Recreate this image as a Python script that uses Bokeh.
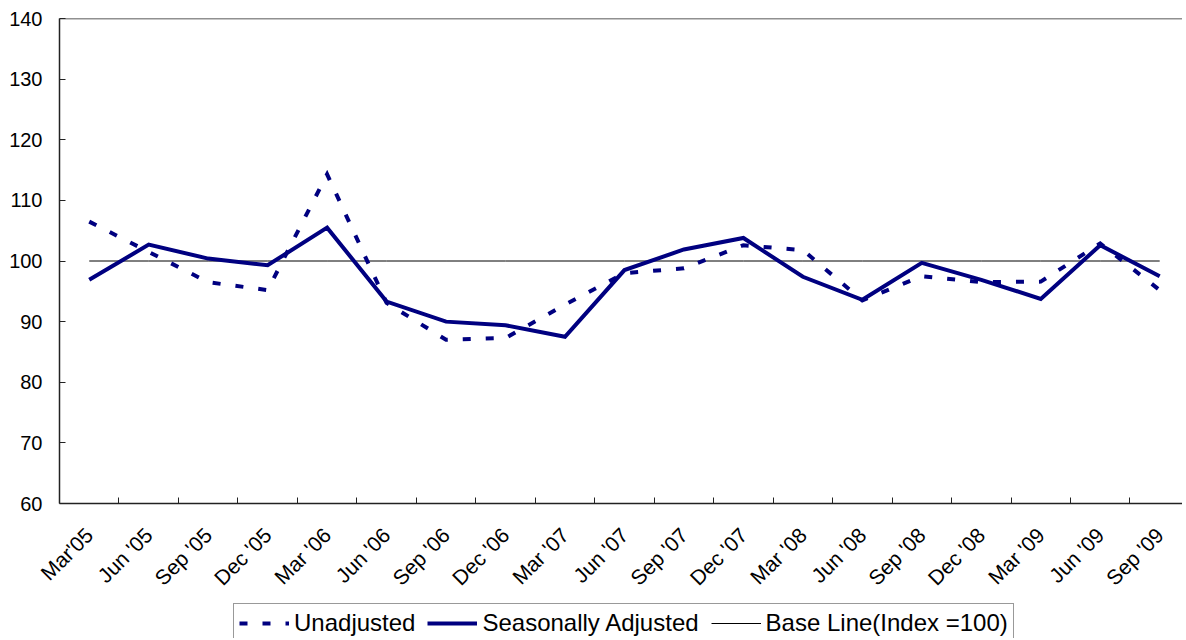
from bokeh.plotting import figure
from bokeh.models import (Range1d, FixedTicker, Legend, LegendItem, Span)
from bokeh.layouts import column
from bokeh.embed import file_html
from bokeh.resources import INLINE

# ---- data ----
quarters = ["Mar'05", "Jun '05", "Sep '05", "Dec '05", "Mar '06", "Jun '06",
            "Sep '06", "Dec '06", "Mar '07", "Jun '07", "Sep '07", "Dec '07",
            "Mar '08", "Jun '08", "Sep '08", "Dec '08", "Mar '09", "Jun '09",
            "Sep '09"]
unadjusted = [106.5, 101.5, 96.5, 95.2, 114.3, 93.1, 87.0, 87.3, 92.8, 98.0,
              98.8, 102.6, 101.8, 93.5, 97.5, 96.5, 96.6, 102.9, 95.2]
seasonally_adjusted = [96.9, 102.7, 100.4, 99.3, 105.5, 93.3, 90.0, 89.4, 87.5,
                       98.5, 101.9, 103.8, 97.4, 93.6, 99.7, 96.9, 93.75, 102.6,
                       97.5]
base_line = [100, 100, 100, 100, 100, 100, 100, 100, 100, 100, 100, 100, 100,
             100, 100, 100, 100, 100, 100]
y_ticks = [60, 70, 80, 90, 100, 110, 120, 130, 140]
series_names = ["Unadjusted", "Seasonally Adjusted", "Base Line(Index =100)"]

n = len(quarters)
xs = list(range(n))
series = [unadjusted, seasonally_adjusted, base_line]

FONT = "Liberation Sans"
NAVY = "#000080"
AXIS = "#222222"

W = 1182
H1, H2 = 600, 38
left, top = 59, 18
bottom = H1 - 504
px_per_cat = 59.47
frame_w = W - left
x_end = -0.5 + frame_w / px_per_cat

styles = [
    dict(line_color=NAVY, line_width=4, line_dash="8 15", line_join="miter"),
    dict(line_color=NAVY, line_width=4, line_join="miter"),
    dict(line_color="black", line_width=1),
]

p = figure(width=W, height=H1, output_backend="svg", toolbar_location=None,
           x_range=Range1d(-0.5, x_end), y_range=Range1d(60, 140),
           min_border_left=left, min_border_right=0, min_border_top=top,
           min_border_bottom=bottom)
p.outline_line_color = None
p.background_fill_color = "white"
p.border_fill_color = "white"
p.xgrid.visible = False
p.ygrid.visible = False

# top border line
p.add_layout(Span(location=140, dimension="width", line_color=AXIS,
                  line_width=1.5))

p.line(xs, base_line, **styles[2])
p.line(xs, unadjusted, **styles[0])
p.line(xs, seasonally_adjusted, **styles[1])

# x axis
xa = p.xaxis[0]
xa.ticker = FixedTicker(ticks=xs, minor_ticks=[i + 0.5 for i in range(n - 1)])
xa.major_label_overrides = {i: q for i, q in enumerate(quarters)}
xa.major_label_orientation = 0.785398
xa.major_tick_in = 0
xa.major_tick_out = 0
xa.minor_tick_in = 6
xa.minor_tick_out = 0
xa.minor_tick_line_color = AXIS
xa.axis_line_color = AXIS
xa.axis_line_width = 1.5
xa.major_label_standoff = 28
xa.major_label_text_font = FONT
xa.major_label_text_font_size = "21px"
xa.major_label_text_color = "black"

# y axis
ya = p.yaxis[0]
ya.ticker = FixedTicker(ticks=y_ticks)
ya.major_tick_in = 6
ya.major_tick_out = 0
ya.minor_tick_line_color = None
ya.major_tick_line_color = AXIS
ya.axis_line_color = AXIS
ya.axis_line_width = 1.5
ya.major_label_standoff = 17
ya.major_label_text_font = FONT
ya.major_label_text_font_size = "20px"
ya.major_label_text_color = "black"

# ---- legend strip (proxy renderers lie outside this strip's ranges) ----
p2 = figure(width=W, height=H2, output_backend="svg", toolbar_location=None,
            x_axis_type=None, y_axis_type=None,
            x_range=Range1d(-0.5, x_end), y_range=Range1d(0, 1),
            min_border_left=left, min_border_right=0, min_border_top=0,
            min_border_bottom=0)
p2.outline_line_color = None
p2.xgrid.visible = False
p2.ygrid.visible = False
items = []
for name, st, vals in zip(series_names, styles, series):
    r = p2.line(xs, vals, **st)
    items.append(LegendItem(label=name, renderers=[r]))

legend = Legend(items=items, orientation="horizontal", location=(174, -5))
legend.label_text_font = FONT
legend.label_text_font_size = "24px"
legend.label_text_color = "black"
legend.glyph_width = 50
legend.glyph_height = 20
legend.label_standoff = 5
legend.spacing = 12
legend.padding = 5
legend.margin = 0
legend.border_line_color = "#333333"
legend.border_line_width = 1
legend.background_fill_alpha = 1
p2.add_layout(legend)

layout = column(p, p2, spacing=0)
open("out.html", "w").write(file_html(layout, INLINE))
